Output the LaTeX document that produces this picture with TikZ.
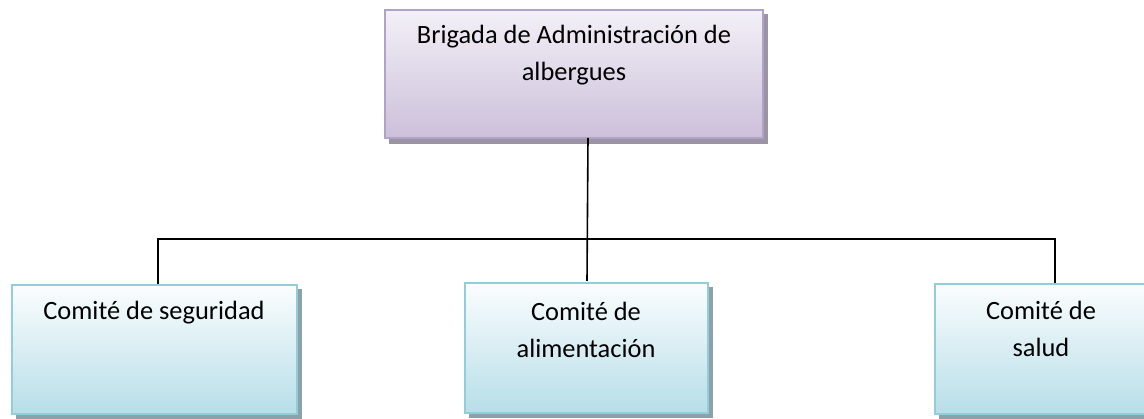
\documentclass[tikz,border=0pt]{standalone}
\usepackage{fontspec}
\setmainfont{Carlito}
\usetikzlibrary{shadings}
\definecolor{lavtop}{HTML}{F3F0F7}
\definecolor{lavbot}{HTML}{CCC0DA}
\definecolor{lavline}{HTML}{B3A2C7}
\definecolor{lavshadow}{HTML}{9A94A4}
\definecolor{bluetop}{HTML}{FBFDFE}
\definecolor{bluebot}{HTML}{B7DEE8}
\definecolor{blueline}{HTML}{92CDDC}
\definecolor{blueshadow}{HTML}{8CA2AA}
\tikzset{
  x=1pt, y=-1pt,
  txt/.style={font=\fontsize{26.4}{37}\selectfont, align=center, anchor=base, inner sep=0pt},
  conn/.style={draw=black, line width=1.6pt},
}
\begin{document}
\begin{tikzpicture}
\useasboundingbox (0,0) rectangle (1144,419);
\clip (0,0) rectangle (1144,419);
% top box
\fill[lavshadow] (389,14) rectangle (768,144);
\shade[top color=lavtop, bottom color=lavbot, draw=lavline, line width=2pt] (385,10) rectangle (763,138);
\coordinate (topb) at (588,138);
\node[txt] (top) at (574,81) {Brigada de Administración de\\albergues};
% bottom boxes
\fill[blueshadow] (16,289) rectangle (302,419);
\shade[top color=bluetop, bottom color=bluebot, draw=blueline, line width=2pt] (12,285) rectangle (297,414);
\node[txt] (seg) at (154,320) {Comité de seguridad};
\fill[blueshadow] (469,287) rectangle (713,418);
\shade[top color=bluetop, bottom color=bluebot, draw=blueline, line width=2pt] (465,283) rectangle (708,413);
\node[txt] (ali) at (586,358) {Comité de\\alimentación};
\fill[blueshadow] (939,288) rectangle (1160,419);
\shade[top color=bluetop, bottom color=bluebot, draw=blueline, line width=2pt] (935,284) rectangle (1150,414);
\node[txt] (sal) at (1041,357) {Comité de\\salud};
% connectors
\coordinate (segt) at (158,284);
\coordinate (alit) at (587,281);
\coordinate (salt) at (1055,283);
\coordinate (hl) at (158,239);
\coordinate (hr) at (1055,239);
\draw[conn] (topb) -- (alit);
\draw[conn] (segt) -- (hl) -- (hr) -- (salt);
\end{tikzpicture}
\end{document}
